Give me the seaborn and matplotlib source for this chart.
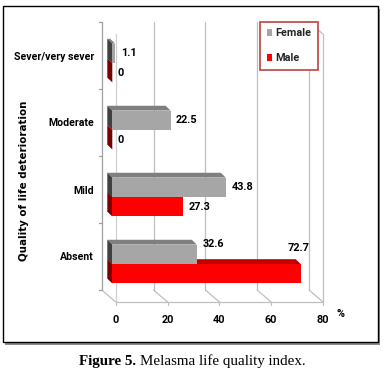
import matplotlib
matplotlib.use("Agg")
import matplotlib.pyplot as plt
import matplotlib.transforms as mtransforms
from matplotlib.patches import Polygon, Rectangle, Patch
from matplotlib.lines import Line2D
import pandas as pd
import seaborn as sns

# ---------------- data ----------------
categories = ["Sever/very sever", "Moderate", "Mild", "Absent"]
female = [1.1, 22.5, 43.8, 32.6]
male = [0, 0, 27.3, 72.7]
series_names = ["Female", "Male"]
x_ticks = [0, 20, 40, 60, 80]
x_unit = "%"
y_title = "Quality of life deterioration"
caption_bold = "Figure 5."
caption_rest = "Melasma life quality index."

# ---------------- style ----------------
W, H = 386, 377
sns.set_theme(style="white")
plt.rcParams["font.family"] = ["Roboto", "DejaVu Sans"]
plt.rcParams["font.weight"] = "bold"

def fx(x):
    return x / W

def fy(y):
    return 1 - y / H

fig = plt.figure(figsize=(W / 100, H / 100), dpi=100)
fig.patch.set_facecolor("white")

# outer frame with shadow
fig.add_artist(Rectangle((fx(5), fy(344.5)), 375 / W, 336 / H, transform=fig.transFigure,
                         fc="#8c8c8c", ec="none", zorder=-3))
fig.add_artist(Rectangle((fx(3), fy(342)), 375 / W, 336 / H, transform=fig.transFigure,
                         fc="white", ec="black", lw=1.0, zorder=-2))

ax = fig.add_axes([fx(112.3), fy(297.5), 207.3 / W, 268 / H])
ax.patch.set_alpha(0)

df = pd.DataFrame({
    "Quality": categories * 2,
    "Sex": [series_names[0]] * len(categories) + [series_names[1]] * len(categories),
    "Value": female + male,
})
palette = {"Female": "#A6A6A6", "Male": "#FF0000"}
sns.barplot(data=df, y="Quality", x="Value", hue="Sex", hue_order=series_names,
            order=categories, palette=palette, orient="h", width=0.58, dodge=True,
            saturation=1, legend=False, ax=ax, zorder=3, edgecolor="none", linewidth=0)

ax.set_xlim(0, 80)
ax.set_ylim(3.5, -0.5)
for s in ax.spines.values():
    s.set_visible(False)
ax.set_xlabel("")

# 3D faces on bars
xpp = 80 / 207.3
ypp = 4 / 268
dxd, dyd = -5 * xpp, -4.8 * ypp
face_colors = {"Female": ("#7F7F7F", "#404040"), "Male": ("#C00000", "#7A0000")}
for name, cont in zip(series_names, ax.containers):
    top_c, side_c = face_colors[name]
    for bar in cont:
        x0 = bar.get_x(); x1 = x0 + bar.get_width()
        yt = bar.get_y(); yb = yt + bar.get_height()
        ax.add_patch(Polygon([(x0, yt), (x1, yt), (x1 + dxd, yt + dyd), (x0 + dxd, yt + dyd)],
                             closed=True, fc=top_c, ec="none", zorder=2.5, clip_on=False))
        ax.add_patch(Polygon([(x0, yt), (x0, yb), (x0 + dxd, yb + dyd), (x0 + dxd, yt + dyd)],
                             closed=True, fc=side_c, ec="none", zorder=2.6, clip_on=False))

# 3D box (back wall, floor, front edges)
BACK = (-10.6, 7.5)
FRONT = (3.4, -4.5)
inv = fig.transFigure.inverted()
xt = ax.get_xaxis_transform()

def P(x, y, trans, off, extra=(0, 0)):
    p = trans.transform((x, y))
    return inv.transform((p[0] + off[0] + extra[0], p[1] + off[1] + extra[1]))

def seg(p, q, color="#BFBFBF", lw=0.9, z=0.5):
    ax.add_line(Line2D([p[0], q[0]], [p[1], q[1]], transform=fig.transFigure,
                       color=color, lw=lw, clip_on=False, zorder=z))

for v in x_ticks:
    col = "#A0A0A0" if v == 0 else "#BFBFBF"
    seg(P(v, 0, xt, BACK), P(v, 1, xt, BACK), color=col)
    seg(P(v, 0, xt, BACK), P(v, 0, xt, FRONT))
    seg(P(v, 0, xt, FRONT), P(v, 0, xt, FRONT, (0, -3)))
seg(P(0, 0, xt, FRONT), P(80, 0, xt, FRONT))
seg(P(0, 0, xt, FRONT), P(0, 1, xt, FRONT), color="#D0D0D0")
seg(P(80, 0, xt, FRONT), P(80, 1, xt, FRONT))
seg(P(80, 1, xt, BACK), P(80, 1, xt, FRONT))
for b in [-0.5, 0.5, 1.5, 2.5, 3.5]:
    seg(P(0, b, ax.transData, BACK), P(0, b, ax.transData, BACK, (-3, 0)), color="#A0A0A0")

# ticks and labels
ax.set_xticks(x_ticks)
ax.set_xticklabels([str(v) for v in x_ticks])
ax.tick_params(axis="x", length=0, pad=12.6, labelsize=7.8, labelcolor="black")
ax.tick_params(axis="y", length=0, pad=13.2, labelsize=7.6, labelcolor="black")
for lab in ax.get_xticklabels() + ax.get_yticklabels():
    lab.set_fontweight("bold")
ax.set_ylabel(y_title, fontsize=7.4, fontweight="bold", family="DejaVu Sans", color="black")
ax.yaxis.set_label_coords(-0.404, 0.436)

fig.text(fx(340.7), fy(314), x_unit, ha="center", va="center", fontsize=7.8,
         fontweight="bold", color="black")

# value labels
label_style = {
    ("Absent", "Female"): dict(anchor="top", dx=6.3, dy=1, ha="left"),
    ("Absent", "Male"): dict(anchor="top", dx=-2, dy=16, ha="center"),
}
for name, cont, vals in zip(series_names, ax.containers, [female, male]):
    for cat, bar, v in zip(categories, cont, vals):
        st = label_style.get((cat, name), dict(anchor="center", dx=5.5, dy=0, ha="left"))
        xe = bar.get_x() + bar.get_width()
        ya = bar.get_y() if st["anchor"] == "top" else bar.get_y() + bar.get_height() / 2
        ax.annotate(f"{v:g}", (xe, ya), xytext=(st["dx"] * 0.72, st["dy"] * 0.72),
                    textcoords="offset points", ha=st["ha"], va="center",
                    fontsize=7.8, fontweight="bold", color="black", zorder=6,
                    annotation_clip=False)

# legend
handles = [Patch(fc=palette[n], ec="none") for n in series_names]
leg = ax.legend(handles, series_names, loc="upper left", bbox_to_anchor=(fx(260), fy(22)),
                bbox_transform=fig.transFigure, borderaxespad=0,
                prop={"size": 7.8, "weight": "bold"},
                handlelength=0.5, handleheight=0.55, handletextpad=0.3, labelspacing=1.35,
                borderpad=0.6, fancybox=False, edgecolor="#C0504D", facecolor="white",
                framealpha=1)
leg.get_frame().set_linewidth(1.3)

# caption
tb = fig.text(fx(79), fy(365.5), caption_bold, ha="left", va="baseline", fontsize=10.8,
              family="Liberation Serif", fontweight="bold", color="black")
fig.canvas.draw()
rend = fig.canvas.get_renderer()
bb = tb.get_window_extent(rend)
gap = 4.5
fig.text((bb.x1 + gap) / W, fy(365.5), caption_rest, ha="left", va="baseline",
         fontsize=10.8, family="Liberation Serif", fontweight="normal", color="black")

# shift tick labels into the 3D planes
for lab in ax.get_xticklabels():
    lab.set_transform(lab.get_transform() + mtransforms.Affine2D().translate(FRONT[0], 0))
for lab in ax.get_yticklabels():
    lab.set_transform(lab.get_transform() + mtransforms.Affine2D().translate(0, BACK[1]))

fig.savefig("out.png", dpi=100, facecolor="white")
